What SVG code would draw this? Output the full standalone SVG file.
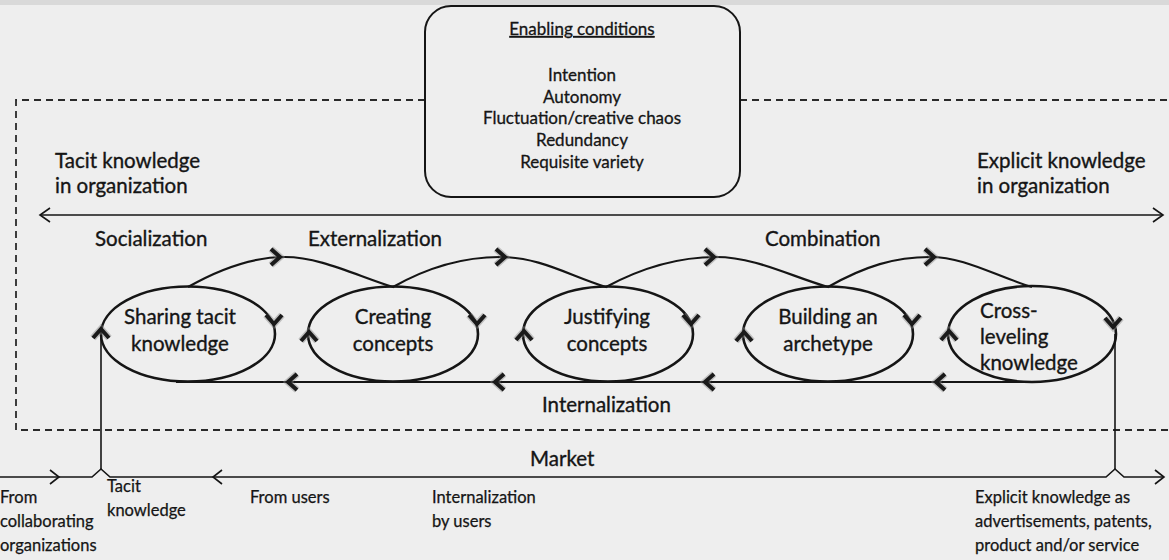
<svg xmlns="http://www.w3.org/2000/svg" width="1169" height="560" viewBox="0 0 1169 560">
<defs>
<style>
text{font-family:Lato,"Open Sans","Liberation Sans",sans-serif;fill:#151515}
.lbl{font-size:20.5px;stroke:#151515;stroke-width:0.35}
.sm{font-size:16.5px;stroke:#151515;stroke-width:0.25}
.ec{font-size:17px;stroke:#151515;stroke-width:0.3}
.ell{fill:none;stroke:#151515;stroke-width:2.6}
.ln{fill:none;stroke:#151515;stroke-width:2.2}
.thin{fill:none;stroke:#151515;stroke-width:1.6}
.dash{fill:none;stroke:#2a2a2a;stroke-width:1.8;stroke-dasharray:7 5}
.chev{fill:none;stroke:#1a1a1a;stroke-width:4;stroke-linejoin:miter;stroke-linecap:butt}
.chs{fill:none;stroke:#888;stroke-width:7;opacity:.45}
.tch{fill:none;stroke:#151515;stroke-width:1.6}
</style>
<g id="ch"><path class="chs" d="M-7,-8 L2,0 L-7,8"/><path class="chev" d="M-7,-8 L2,0 L-7,8"/></g>
</defs>
<rect width="1169" height="560" fill="#eeeeee"/>
<rect width="1169" height="5" fill="#d9d9d9"/>

<g id="boundary">
<path class="dash" d="M425,100 H16 V430 H1169"/>
<path class="dash" d="M740,100 H1169"/>
</g>

<g id="enabling">
<rect x="425" y="6" width="315" height="191" rx="26" fill="none" stroke="#151515" stroke-width="2"/>
<text class="ec" x="582" y="35" text-anchor="middle" text-decoration="underline">Enabling conditions</text>
<text class="ec" x="582" y="81" text-anchor="middle">Intention</text>
<text class="ec" x="582" y="102.5" text-anchor="middle">Autonomy</text>
<text class="ec" x="582" y="124" text-anchor="middle">Fluctuation/creative chaos</text>
<text class="ec" x="582" y="146" text-anchor="middle">Redundancy</text>
<text class="ec" x="582" y="168" text-anchor="middle">Requisite variety</text>
</g>

<g id="labels">
<text class="lbl" x="55" y="168">Tacit knowledge</text>
<text class="lbl" x="55" y="193">in organization</text>
<text class="lbl" x="977" y="168">Explicit knowledge</text>
<text class="lbl" x="977" y="193">in organization</text>
<text class="lbl" x="95" y="246">Socialization</text>
<text class="lbl" x="308" y="246">Externalization</text>
<text class="lbl" x="765" y="246">Combination</text>
<text class="lbl" x="542" y="412">Internalization</text>
<text class="lbl" x="530" y="466">Market</text>
</g>

<g id="n-sharing">
<ellipse class="ell" cx="188" cy="334" rx="87" ry="47.5"/>
<text class="lbl" x="180" y="324" text-anchor="middle">Sharing tacit</text>
<text class="lbl" x="180" y="351" text-anchor="middle">knowledge</text>
</g>
<g id="n-creating">
<ellipse class="ell" cx="393" cy="334" rx="85" ry="47.5"/>
<text class="lbl" x="393" y="324" text-anchor="middle">Creating</text>
<text class="lbl" x="393" y="351" text-anchor="middle">concepts</text>
</g>
<g id="n-justifying">
<ellipse class="ell" cx="608" cy="334" rx="85" ry="47.5"/>
<text class="lbl" x="607" y="324" text-anchor="middle">Justifying</text>
<text class="lbl" x="607" y="351" text-anchor="middle">concepts</text>
</g>
<g id="n-building">
<ellipse class="ell" cx="828" cy="334" rx="85" ry="47.5"/>
<text class="lbl" x="828" y="324" text-anchor="middle">Building an</text>
<text class="lbl" x="828" y="351" text-anchor="middle">archetype</text>
</g>
<g id="n-crossleveling">
<ellipse class="ell" cx="1032" cy="334" rx="84" ry="48"/>
<text class="lbl" x="980" y="318">Cross-</text>
<text class="lbl" x="980" y="344">leveling</text>
<text class="lbl" x="980" y="370">knowledge</text>
</g>

<g id="connectors">
<path class="thin" d="M40,215 H1163"/>
<path class="tch" d="M50,208 L40,215 L50,222"/>
<path class="tch" d="M1153,208 L1163,215 L1153,222"/>
<path class="ln" d="M188,287 C225,266 255,257 285,257 C320,257 355,275 393,287 C430,266 465,257 500,257 C540,257 570,276 606,287 C645,266 680,257 716,257 C755,257 790,276 828,287 C865,266 895,257 930,257 C965,257 995,276 1032,287"/>
<path class="ln" d="M176,382 H1040"/>
<path class="thin" d="M101,334 V470"/>
<path class="thin" d="M1115,334 V470"/>
<path class="thin" d="M0,477 H92 L101,469 L110,477 H1106 L1115,469 L1124,477 H1163"/>
<path class="tch" d="M50,470 L59,477 L50,484"/>
<path class="tch" d="M222,470 L213,477 L222,484"/>
<path class="tch" d="M1155,470 L1164,477 L1155,484"/>
<use href="#ch" transform="translate(278,257)"/>
<use href="#ch" transform="translate(503,257)"/>
<use href="#ch" transform="translate(712,257)"/>
<use href="#ch" transform="translate(932,257)"/>
<use href="#ch" transform="translate(274,322) rotate(90)"/>
<use href="#ch" transform="translate(477,322) rotate(90)"/>
<use href="#ch" transform="translate(691,322) rotate(90)"/>
<use href="#ch" transform="translate(912,322) rotate(90)"/>
<use href="#ch" transform="translate(1113,325) rotate(90)"/>
<use href="#ch" transform="translate(101,331) rotate(-90)"/>
<use href="#ch" transform="translate(309,334) rotate(-90)"/>
<use href="#ch" transform="translate(524,333) rotate(-90)"/>
<use href="#ch" transform="translate(744,334) rotate(-90)"/>
<use href="#ch" transform="translate(949,333) rotate(-90)"/>
<use href="#ch" transform="translate(290,382) rotate(180)"/>
<use href="#ch" transform="translate(497,382) rotate(180)"/>
<use href="#ch" transform="translate(707,382) rotate(180)"/>
<use href="#ch" transform="translate(938,382) rotate(180)"/>
</g>

<g id="market-labels">
<text class="sm" x="0" y="503">From</text>
<text class="sm" x="0" y="527">collaborating</text>
<text class="sm" x="0" y="551">organizations</text>
<text class="sm" x="107" y="492">Tacit</text>
<text class="sm" x="107" y="516">knowledge</text>
<text class="sm" x="250" y="503">From users</text>
<text class="sm" x="432" y="503">Internalization</text>
<text class="sm" x="432" y="527">by users</text>
<text class="sm" x="975" y="503">Explicit knowledge as</text>
<text class="sm" x="975" y="527">advertisements, patents,</text>
<text class="sm" x="975" y="551">product and/or service</text>
</g>
</svg>
